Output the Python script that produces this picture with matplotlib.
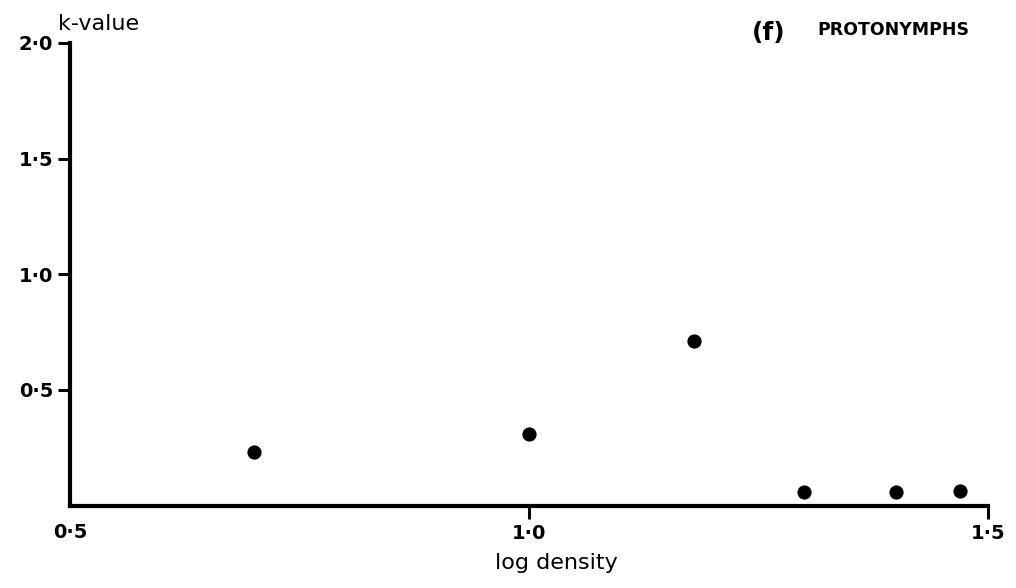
import matplotlib
matplotlib.use("Agg")
import matplotlib.pyplot as plt

# k-value against log density, protonymphs
log_density = [0.70, 1.00, 1.18, 1.30, 1.40, 1.47]
k_value = [0.23, 0.31, 0.71, 0.06, 0.06, 0.065]

x_ticks = [0.5, 1.0, 1.5]
x_labels = ["0·5", "1·0", "1·5"]
y_ticks = [0.5, 1.0, 1.5, 2.0]
y_labels = ["0·5", "1·0", "1·5", "2·0"]

plt.rcParams["font.family"] = ["DejaVu Sans"]

fig = plt.figure(figsize=(10.16, 5.88), dpi=100)
ax = fig.add_axes([0.0689, 0.140, 0.9035, 0.787])

ax.scatter(log_density, k_value, s=85, color="black", zorder=3, clip_on=False)

ax.set_xlim(0.5, 1.5)
ax.set_ylim(0, 2.0)

for side in ("top", "right"):
    ax.spines[side].set_visible(False)
for side in ("left", "bottom"):
    ax.spines[side].set_linewidth(3)
    ax.spines[side].set_capstyle("projecting")

ax.set_xticks(x_ticks[1:], x_labels[1:])
ax.set_yticks(y_ticks, y_labels)
ax.tick_params(axis="both", direction="out", length=9, width=2.2, labelsize=14)
ax.tick_params(axis="x", pad=4)
ax.tick_params(axis="y", pad=3)
for lab in ax.get_xticklabels() + ax.get_yticklabels():
    lab.set_fontweight("bold")

# 0.5 label under the corner (no tick mark there in the original)
ax.text(0.5, -0.038, "0·5", transform=ax.get_xaxis_transform(), ha="center", va="top",
        fontsize=14, fontweight="bold")

ax.set_xlabel("log density", fontsize=16)
ax.xaxis.set_label_coords(0.53, -0.103)

fig.text(58 / 1016, 1 - 24 / 588, "k-value", fontsize=16, ha="left", va="center")
fig.text(752 / 1016, 1 - 33 / 588, "(f)", fontsize=18, ha="left", va="center",
         fontweight="bold")
fig.text(817 / 1016, 1 - 30 / 588, "PROTONYMPHS", fontsize=12.5, ha="left", va="center",
         fontweight="bold")

fig.savefig("out.png", dpi=100)
